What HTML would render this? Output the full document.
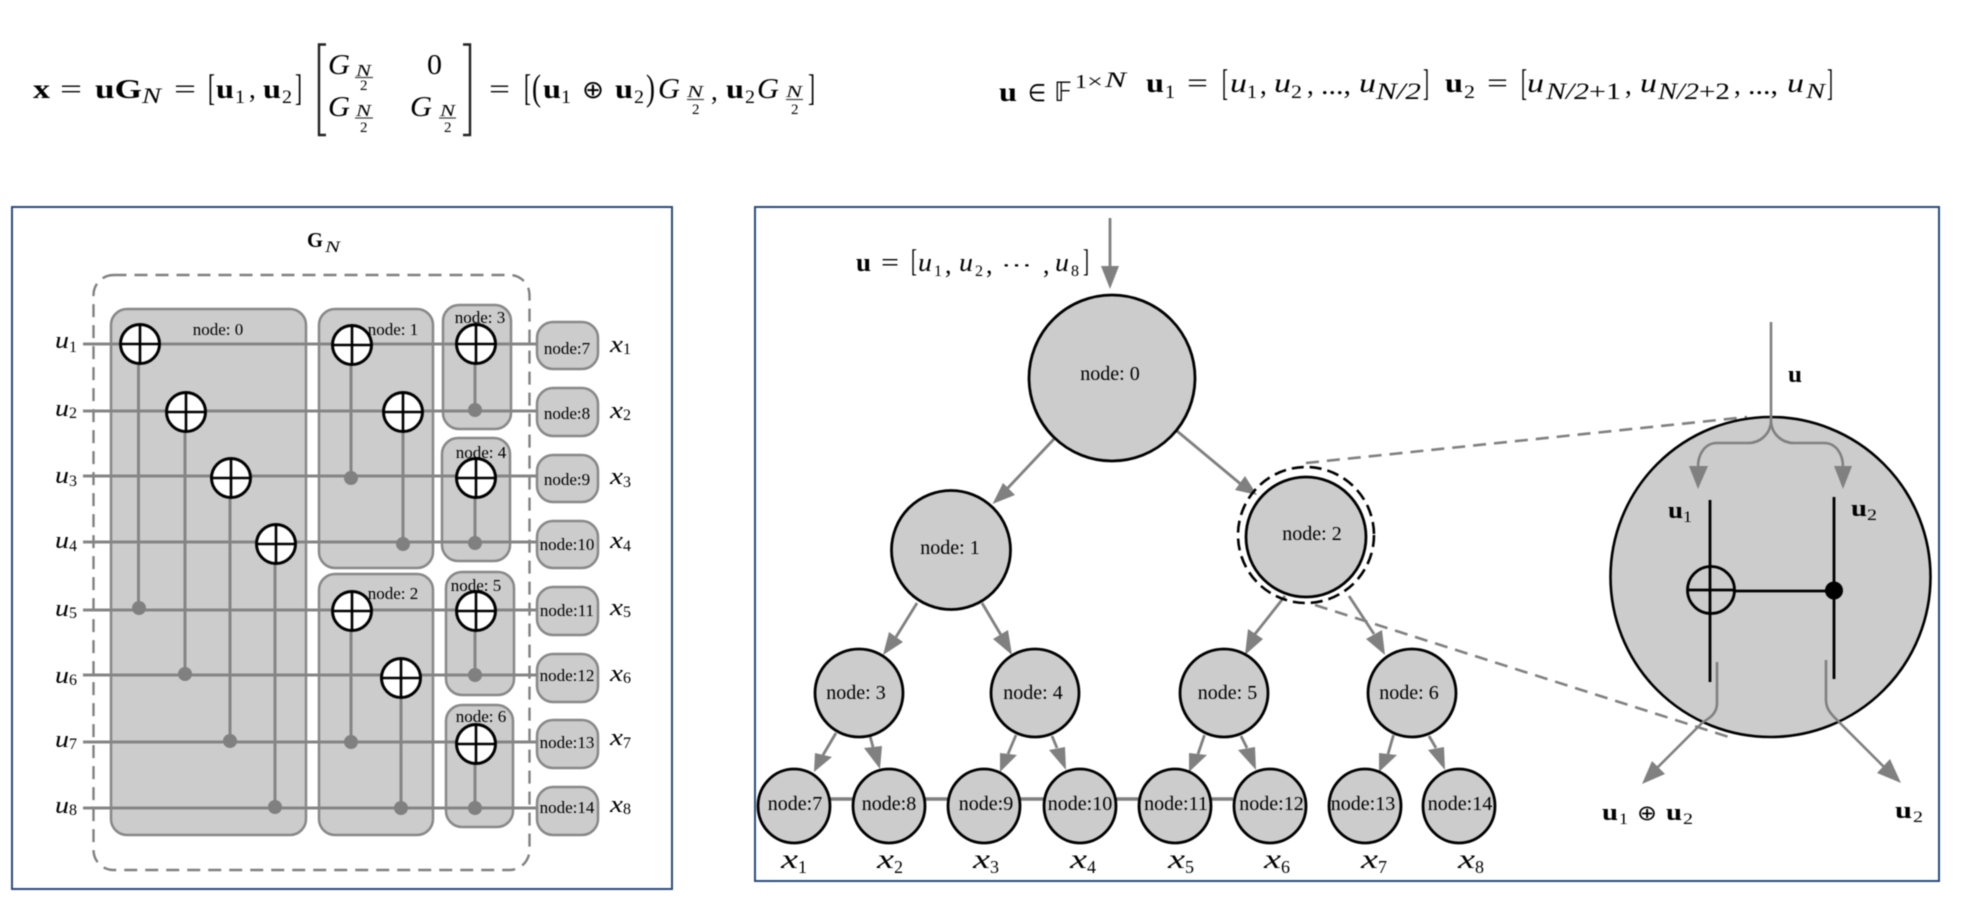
<!DOCTYPE html>
<html><head><meta charset="utf-8"><style>
html,body{margin:0;padding:0;background:#fff}
svg{display:block;filter:blur(0.45px)}
text{font-family:"Liberation Serif",serif;fill:#000}
.b{font-weight:bold}
.i{font-style:italic}
.t{font-size:17px;text-anchor:middle}
.T{font-size:20px;text-anchor:middle}
.w{stroke:#858585;stroke-width:3;fill:none}
.g{fill:#808080}
.s{font-family:"DejaVu Sans",sans-serif}
</style></head><body>
<svg width="1980" height="906" viewBox="0 0 1980 906" xmlns="http://www.w3.org/2000/svg">
<defs>
<g id="x"><circle r="19.5" fill="#fff" stroke="#000" stroke-width="3"/><path d="M-19.5 0H19.5M0 -19.5V19.5" stroke="#000" stroke-width="2.6" fill="none"/></g>
</defs>
<rect width="1980" height="906" fill="#fff"/>

<!-- equation 1 -->
<g font-size="27">
<text class="b" x="33" y="98" textLength="17" lengthAdjust="spacingAndGlyphs">x</text>
<text x="60" y="98" textLength="22" lengthAdjust="spacingAndGlyphs">=</text>
<text class="b" x="95" y="98" textLength="47" lengthAdjust="spacingAndGlyphs">uG</text>
<text class="i" x="142" y="103" font-size="22" textLength="19" lengthAdjust="spacingAndGlyphs">N</text>
<text x="174" y="98" textLength="22" lengthAdjust="spacingAndGlyphs">=</text>
<text x="208" y="100" font-size="37" textLength="7" lengthAdjust="spacingAndGlyphs">[</text>
<text class="b" x="216" y="98" textLength="18" lengthAdjust="spacingAndGlyphs">u</text>
<text x="235" y="103" font-size="19" textLength="10" lengthAdjust="spacingAndGlyphs">1</text>
<text x="249" y="98">,</text>
<text class="b" x="263" y="98" textLength="18" lengthAdjust="spacingAndGlyphs">u</text>
<text x="282" y="103" font-size="19" textLength="10" lengthAdjust="spacingAndGlyphs">2</text>
<text x="295" y="100" font-size="37" textLength="7" lengthAdjust="spacingAndGlyphs">]</text>
<text class="i" x="328" y="74" font-size="29" textLength="22" lengthAdjust="spacingAndGlyphs">G</text>
<text class="i" x="356" y="76" font-size="17" textLength="15" lengthAdjust="spacingAndGlyphs">N</text>
<text x="360" y="90" font-size="15">2</text>
<text x="427" y="74" font-size="29" textLength="15" lengthAdjust="spacingAndGlyphs">0</text>
<text class="i" x="328" y="116" font-size="29" textLength="22" lengthAdjust="spacingAndGlyphs">G</text>
<text class="i" x="356" y="116" font-size="17" textLength="15" lengthAdjust="spacingAndGlyphs">N</text>
<text x="360" y="132" font-size="15">2</text>
<text class="i" x="410" y="116" font-size="29" textLength="22" lengthAdjust="spacingAndGlyphs">G</text>
<text class="i" x="440" y="116" font-size="17" textLength="15" lengthAdjust="spacingAndGlyphs">N</text>
<text x="444" y="132" font-size="15">2</text>
<text x="489" y="98" textLength="21" lengthAdjust="spacingAndGlyphs">=</text>
<text x="524" y="100" font-size="37" textLength="7" lengthAdjust="spacingAndGlyphs">[</text>
<text x="532" y="100" font-size="37" textLength="9" lengthAdjust="spacingAndGlyphs">(</text>
<text class="b" x="543" y="98" textLength="18" lengthAdjust="spacingAndGlyphs">u</text>
<text x="561" y="103" font-size="19" textLength="10" lengthAdjust="spacingAndGlyphs">1</text>
<text class="s" x="582" y="98" font-size="25" textLength="22" lengthAdjust="spacingAndGlyphs">⊕</text>
<text class="b" x="615" y="98" textLength="18" lengthAdjust="spacingAndGlyphs">u</text>
<text x="634" y="103" font-size="19" textLength="10" lengthAdjust="spacingAndGlyphs">2</text>
<text x="646" y="100" font-size="37" textLength="9" lengthAdjust="spacingAndGlyphs">)</text>
<text class="i" x="658" y="98" font-size="29" textLength="22" lengthAdjust="spacingAndGlyphs">G</text>
<text class="i" x="687" y="97" font-size="17" textLength="16" lengthAdjust="spacingAndGlyphs">N</text>
<text x="692" y="114" font-size="15">2</text>
<text x="711" y="100">,</text>
<text class="b" x="726" y="98" textLength="18" lengthAdjust="spacingAndGlyphs">u</text>
<text x="745" y="103" font-size="19" textLength="10" lengthAdjust="spacingAndGlyphs">2</text>
<text class="i" x="757" y="98" font-size="29" textLength="22" lengthAdjust="spacingAndGlyphs">G</text>
<text class="i" x="786" y="97" font-size="17" textLength="16" lengthAdjust="spacingAndGlyphs">N</text>
<text x="791" y="114" font-size="15">2</text>
<text x="808" y="100" font-size="37" textLength="7" lengthAdjust="spacingAndGlyphs">]</text>
</g>
<path d="M326 44.500H319V135H326M463 44.500H470V135H463" fill="none" stroke="#222" stroke-width="2.400"/>
<path d="M355 77.500H373M439 118H456M355 118H373M687 99.500H704M786 99.500H803" stroke="#444" stroke-width="1.300"/>

<!-- equation 2 -->
<g font-size="27">
<text class="b" x="999" y="101" textLength="18" lengthAdjust="spacingAndGlyphs">u</text>
<text class="s" x="1028" y="101" font-size="24" textLength="18" lengthAdjust="spacingAndGlyphs">∈</text>
<text class="s" x="1054" y="101" font-size="27" textLength="18" lengthAdjust="spacingAndGlyphs">𝔽</text>
<text x="1075" y="88" font-size="20" textLength="12" lengthAdjust="spacingAndGlyphs">1</text>
<text x="1087" y="88" font-size="20" textLength="16" lengthAdjust="spacingAndGlyphs">×</text>
<text class="i" x="1105" y="87" font-size="22" textLength="21" lengthAdjust="spacingAndGlyphs">N</text>

<text class="b" x="1146" y="92" textLength="18" lengthAdjust="spacingAndGlyphs">u</text>
<text x="1165" y="98" font-size="19" textLength="10" lengthAdjust="spacingAndGlyphs">1</text>
<text x="1187" y="92" textLength="21" lengthAdjust="spacingAndGlyphs">=</text>
<text x="1222" y="95" font-size="37" textLength="6" lengthAdjust="spacingAndGlyphs">[</text>
<text class="i" x="1230" y="92" textLength="17" lengthAdjust="spacingAndGlyphs">u</text>
<text x="1247" y="98" font-size="19" textLength="10" lengthAdjust="spacingAndGlyphs">1</text>
<text x="1260" y="94">,</text>
<text class="i" x="1274" y="92" textLength="17" lengthAdjust="spacingAndGlyphs">u</text>
<text x="1291" y="98" font-size="19" textLength="11" lengthAdjust="spacingAndGlyphs">2</text>
<text x="1307" y="94">,</text>
<text x="1321" y="94" textLength="30" lengthAdjust="spacingAndGlyphs">...,</text>
<text class="i" x="1359" y="92" textLength="17" lengthAdjust="spacingAndGlyphs">u</text>
<text class="i" x="1376" y="99" font-size="23" textLength="45" lengthAdjust="spacingAndGlyphs">N/2</text>
<text x="1423" y="95" font-size="37" textLength="6" lengthAdjust="spacingAndGlyphs">]</text>

<text class="b" x="1445" y="92" textLength="18" lengthAdjust="spacingAndGlyphs">u</text>
<text x="1464" y="98" font-size="19" textLength="11" lengthAdjust="spacingAndGlyphs">2</text>
<text x="1487" y="92" textLength="21" lengthAdjust="spacingAndGlyphs">=</text>
<text x="1521" y="95" font-size="37" textLength="6" lengthAdjust="spacingAndGlyphs">[</text>
<text class="i" x="1527" y="92" textLength="17" lengthAdjust="spacingAndGlyphs">u</text>
<text class="i" x="1546" y="99" font-size="23" textLength="43" lengthAdjust="spacingAndGlyphs">N/2</text>
<text x="1589" y="99" font-size="23" textLength="32" lengthAdjust="spacingAndGlyphs">+1</text>
<text x="1625" y="94">,</text>
<text class="i" x="1640" y="92" textLength="17" lengthAdjust="spacingAndGlyphs">u</text>
<text class="i" x="1658" y="99" font-size="23" textLength="41" lengthAdjust="spacingAndGlyphs">N/2</text>
<text x="1699" y="99" font-size="23" textLength="31" lengthAdjust="spacingAndGlyphs">+2</text>
<text x="1734" y="94">,</text>
<text x="1748" y="94" textLength="30" lengthAdjust="spacingAndGlyphs">...,</text>
<text class="i" x="1787" y="92" textLength="17" lengthAdjust="spacingAndGlyphs">u</text>
<text class="i" x="1806" y="98" font-size="21" textLength="19" lengthAdjust="spacingAndGlyphs">N</text>
<text x="1827" y="95" font-size="37" textLength="6" lengthAdjust="spacingAndGlyphs">]</text>
</g>

<!-- left panel -->
<rect x="12" y="207" width="660" height="682" fill="#fff" stroke="#2a4a80" stroke-width="2"/>
<text class="b" x="307" y="247" font-size="21" textLength="16" lengthAdjust="spacingAndGlyphs">G</text>
<text class="i" x="325" y="252" font-size="16" textLength="15" lengthAdjust="spacingAndGlyphs">N</text>
<rect x="93.500" y="275" width="436" height="595" rx="20" fill="none" stroke="#808080" stroke-width="2.400" stroke-dasharray="13 8"/>
<g fill="#ccc" stroke="#888" stroke-width="2.500">
<rect x="111" y="309" width="195" height="526" rx="16"/>
<rect x="319" y="309" width="114" height="259" rx="16"/>
<rect x="319" y="574" width="114" height="261" rx="16"/>
<rect x="443" y="305" width="68" height="124" rx="16"/>
<rect x="442" y="438" width="68" height="123" rx="16"/>
<rect x="446" y="572" width="68" height="123" rx="16"/>
<rect x="446" y="705" width="67" height="122" rx="16"/>
</g>
<path class="w" d="M83 344H538M83 411H538M83 476H538M83 542H538M83 610H538M83 675H538M83 742H538M83 808H538"/>
<path class="w" d="M138.500 344V608M185 412V674M230 478V741M275 544V807M351 345V478M403 412V544M351 611V742M401 678V808M475 344V410M475 478V543M475 611V675M475 744V808"/>
<g fill="#808080">
<circle cx="139" cy="608" r="7"/><circle cx="185" cy="674" r="7"/><circle cx="230" cy="741" r="7"/><circle cx="275" cy="807" r="7"/>
<circle cx="351" cy="478" r="7"/><circle cx="403" cy="544" r="7"/><circle cx="351" cy="742" r="7"/><circle cx="401" cy="808" r="7"/>
<circle cx="475" cy="410" r="7"/><circle cx="475" cy="543" r="7"/><circle cx="475" cy="675" r="7"/><circle cx="475" cy="808" r="7"/>
</g>
<use href="#x" x="140" y="344"/><use href="#x" x="186" y="412"/><use href="#x" x="231" y="478"/><use href="#x" x="276" y="544"/>
<use href="#x" x="352" y="345"/><use href="#x" x="403" y="412"/><use href="#x" x="352" y="611"/><use href="#x" x="401" y="678"/>
<use href="#x" x="476" y="344"/><use href="#x" x="476" y="478"/><use href="#x" x="476" y="611"/><use href="#x" x="476" y="744"/>
<g fill="#ccc" stroke="#888" stroke-width="2.500">
<rect x="537" y="322" width="61" height="47" rx="16"/><rect x="537" y="388" width="61" height="48" rx="16"/>
<rect x="537" y="455" width="61" height="47" rx="16"/><rect x="537" y="521" width="61" height="47" rx="16"/>
<rect x="537" y="587" width="61" height="48" rx="16"/><rect x="537" y="654" width="61" height="48" rx="16"/>
<rect x="537" y="720" width="61" height="48" rx="16"/><rect x="537" y="787" width="61" height="48" rx="16"/>
</g>
<text class="t" x="218" y="335">node: 0</text>
<text class="t" x="393" y="335">node: 1</text>
<text class="t" x="393" y="599">node: 2</text>
<text class="t" x="480" y="323">node: 3</text>
<text class="t" x="481" y="458">node: 4</text>
<text class="t" x="476" y="591">node: 5</text>
<text class="t" x="481" y="722">node: 6</text>
<text class="t" x="567" y="354">node:7</text>
<text class="t" x="567" y="419">node:8</text>
<text class="t" x="567" y="485">node:9</text>
<text class="t" x="567" y="550">node:10</text>
<text class="t" x="567" y="616">node:11</text>
<text class="t" x="567" y="681">node:12</text>
<text class="t" x="567" y="748">node:13</text>
<text class="t" x="567" y="813">node:14</text>

<g font-size="24">
<g class="i">
<text x="55" y="348" textLength="14" lengthAdjust="spacingAndGlyphs">u</text>
<text x="55" y="416" textLength="14" lengthAdjust="spacingAndGlyphs">u</text>
<text x="55" y="483" textLength="14" lengthAdjust="spacingAndGlyphs">u</text>
<text x="55" y="548" textLength="14" lengthAdjust="spacingAndGlyphs">u</text>
<text x="55" y="616" textLength="14" lengthAdjust="spacingAndGlyphs">u</text>
<text x="55" y="683" textLength="14" lengthAdjust="spacingAndGlyphs">u</text>
<text x="55" y="747" textLength="14" lengthAdjust="spacingAndGlyphs">u</text>
<text x="55" y="813" textLength="14" lengthAdjust="spacingAndGlyphs">u</text>
<text x="610" y="352" textLength="13" lengthAdjust="spacingAndGlyphs">x</text>
<text x="610" y="418" textLength="13" lengthAdjust="spacingAndGlyphs">x</text>
<text x="610" y="484" textLength="13" lengthAdjust="spacingAndGlyphs">x</text>
<text x="610" y="548" textLength="13" lengthAdjust="spacingAndGlyphs">x</text>
<text x="610" y="615" textLength="13" lengthAdjust="spacingAndGlyphs">x</text>
<text x="610" y="681" textLength="13" lengthAdjust="spacingAndGlyphs">x</text>
<text x="610" y="745" textLength="13" lengthAdjust="spacingAndGlyphs">x</text>
<text x="610" y="812" textLength="13" lengthAdjust="spacingAndGlyphs">x</text>
</g>
<g font-size="16">
<text x="69" y="352">1</text><text x="69" y="418">2</text><text x="69" y="486">3</text><text x="69" y="551">4</text>
<text x="69" y="618">5</text><text x="69" y="685">6</text><text x="69" y="749">7</text><text x="69" y="815">8</text>
<text x="623" y="354">1</text><text x="623" y="420">2</text><text x="623" y="487">3</text><text x="623" y="551">4</text>
<text x="623" y="617">5</text><text x="623" y="683">6</text><text x="623" y="748">7</text><text x="623" y="814">8</text>
</g>
</g>

<!-- right panel -->
<rect x="755" y="207" width="1184" height="674" fill="#fff" stroke="#2a4a80" stroke-width="2"/>

<g font-size="26">
<text class="b" x="856" y="271" textLength="15" lengthAdjust="spacingAndGlyphs">u</text>
<text x="881" y="271" textLength="18" lengthAdjust="spacingAndGlyphs">=</text>
<text x="911" y="271" font-size="32" textLength="6" lengthAdjust="spacingAndGlyphs">[</text>
<text class="i" x="918" y="271" textLength="14" lengthAdjust="spacingAndGlyphs">u</text>
<text x="934" y="276" font-size="16">1</text>
<text x="945" y="273">,</text>
<text class="i" x="959" y="271" textLength="14" lengthAdjust="spacingAndGlyphs">u</text>
<text x="975" y="276" font-size="16">2</text>
<text x="986" y="273">,</text>
<text class="s" x="1001" y="271" font-size="18" textLength="31" lengthAdjust="spacingAndGlyphs">⋯</text>
<text x="1043" y="273">,</text>
<text class="i" x="1055" y="271" textLength="14" lengthAdjust="spacingAndGlyphs">u</text>
<text x="1071" y="276" font-size="16">8</text>
<text x="1083" y="271" font-size="32" textLength="6" lengthAdjust="spacingAndGlyphs">]</text>
</g>

<!-- leaf link -->
<path d="M830 799H1233" stroke="#808080" stroke-width="3.500" fill="none"/>

<!-- dashed lead lines -->
<path d="M1306 463L1747 417" fill="none" stroke="#808080" stroke-width="2.600" stroke-dasharray="13 8"/>

<!-- big circle -->
<circle cx="1770.500" cy="577" r="160" fill="#ccc" stroke="#000" stroke-width="2.600"/>
<path d="M1315 605L1732 738" fill="none" stroke="#808080" stroke-width="2.600" stroke-dasharray="13 8"/>

<!-- tree edges -->
<g stroke="#808080" stroke-width="2.800" fill="none">
<path d="M1110 218V268"/>
<path d="M1054 439L1005 491"/>
<path d="M1177 431L1243 486"/>
<path d="M917 603L896 637"/>
<path d="M982 603L1001 635"/>
<path d="M1285 596L1255 634"/>
<path d="M1349 596L1374 634"/>
<path d="M836 733L823 755"/>
<path d="M870 736L873 747"/>
<path d="M1016 735L1008 754"/>
<path d="M1052 736L1057 748"/>
<path d="M1204.500 735L1198 754"/>
<path d="M1241 736L1247 748"/>
<path d="M1393.500 735L1388 754"/>
<path d="M1429 736L1436 748"/>
</g>
<g class="g">
<polygon points="1101,266 1119,266 1110,289"/>
<polygon points="1003,483 1015,495 992.500,504"/>
<polygon points="1245,476 1235,490 1257,495"/>
<polygon points="889,632 903,642 883,655"/>
<polygon points="993,639 1008,630 1012,655"/>
<polygon points="1248,629 1263,639 1245,655"/>
<polygon points="1366,639 1382,630 1385,655"/>
<polygon points="815,753 832,757 814,772"/>
<polygon points="864,748 882,746 880,769"/>
<polygon points="1000,753 1017,755 1000,772"/>
<polygon points="1049,750 1065,747 1066,770"/>
<polygon points="1189,753 1207,755 1189,772"/>
<polygon points="1238,750 1255,747 1256,770"/>
<polygon points="1379,753 1397,755 1379,772"/>
<polygon points="1428,750 1444,747 1445,770"/>
</g>

<!-- tree nodes -->
<g fill="#ccc" stroke="#000" stroke-width="2.800">
<circle cx="1112" cy="378" r="83"/>
<circle cx="951" cy="550" r="59.500"/>
<circle cx="1306" cy="537" r="60"/>
<circle cx="859" cy="693" r="44"/><circle cx="1035" cy="693" r="44"/><circle cx="1224" cy="693" r="44"/><circle cx="1412" cy="693" r="44"/>
<ellipse cx="794" cy="806" rx="36" ry="37"/><ellipse cx="889" cy="806" rx="36" ry="37"/><ellipse cx="984" cy="806" rx="36" ry="37"/><ellipse cx="1080" cy="806" rx="36" ry="37"/>
<ellipse cx="1175" cy="806" rx="36" ry="37"/><ellipse cx="1270" cy="806" rx="36" ry="37"/><ellipse cx="1365" cy="806" rx="36" ry="37"/><ellipse cx="1459" cy="806" rx="36" ry="37"/>
</g>
<circle cx="1306" cy="535" r="68" fill="none" stroke="#000" stroke-width="2.600" stroke-dasharray="12 6"/>

<text class="T" x="1110" y="380">node: 0</text>
<text class="T" x="950" y="554">node: 1</text>
<text class="T" x="1312" y="540">node: 2</text>
<text class="T" x="856" y="699">node: 3</text>
<text class="T" x="1033" y="699">node: 4</text>
<text class="T" x="1227.500" y="699">node: 5</text>
<text class="T" x="1409" y="699">node: 6</text>
<text class="T" x="795" y="810">node:7</text>
<text class="T" x="889" y="810">node:8</text>
<text class="T" x="986" y="810">node:9</text>
<text class="T" x="1080" y="810">node:10</text>
<text class="T" x="1176" y="810">node:11</text>
<text class="T" x="1271.500" y="810">node:12</text>
<text class="T" x="1363" y="810">node:13</text>
<text class="T" x="1460" y="810">node:14</text>

<g font-size="27">
<g class="i">
<text x="781" y="868" textLength="17" lengthAdjust="spacingAndGlyphs">x</text>
<text x="877" y="868" textLength="17" lengthAdjust="spacingAndGlyphs">x</text>
<text x="973" y="868" textLength="17" lengthAdjust="spacingAndGlyphs">x</text>
<text x="1070" y="868" textLength="17" lengthAdjust="spacingAndGlyphs">x</text>
<text x="1168" y="868" textLength="17" lengthAdjust="spacingAndGlyphs">x</text>
<text x="1264" y="868" textLength="17" lengthAdjust="spacingAndGlyphs">x</text>
<text x="1361" y="868" textLength="17" lengthAdjust="spacingAndGlyphs">x</text>
<text x="1458" y="868" textLength="17" lengthAdjust="spacingAndGlyphs">x</text>
</g>
<g font-size="18">
<text x="798" y="873">1</text><text x="894" y="873">2</text><text x="990" y="873">3</text><text x="1087" y="873">4</text>
<text x="1185" y="873">5</text><text x="1281" y="873">6</text><text x="1378" y="873">7</text><text x="1475" y="873">8</text>
</g>
</g>

<!-- detail circle contents -->
<g stroke="#808080" stroke-width="2.600" fill="none">
<path d="M1771 322V420C1771 434 1760 443 1748 443H1717C1705 443 1698 454 1698 467"/>
<path d="M1771 420C1771 434 1782 443 1794 443H1824C1836 443 1843 454 1843 467"/>
<path d="M1717 662V703C1717 712 1712 717 1703 722L1650 775"/>
<path d="M1826 660V700C1826 710 1832 715 1840 723L1885 768"/>
</g>
<g class="g">
<polygon points="1689,466 1708,466 1698,489"/>
<polygon points="1834,466 1852,466 1843,489"/>
<polygon points="1652,761 1665,774 1642,784"/>
<polygon points="1890,759 1877,773 1901,783"/>
</g>
<g stroke="#000" stroke-width="2.800" fill="none">
<path d="M1710 500V682M1834 497V679"/>
<circle cx="1711" cy="590" r="23.500"/>
<path d="M1687 590H1735M1735 591H1834"/>
</g>
<circle cx="1834" cy="590.500" r="9" fill="#000"/>

<g font-size="24">
<text class="b" x="1788" y="382" textLength="14" lengthAdjust="spacingAndGlyphs">u</text>
<text class="b" x="1668" y="518" textLength="15" lengthAdjust="spacingAndGlyphs">u</text>
<text x="1683" y="522" font-size="16" textLength="9" lengthAdjust="spacingAndGlyphs">1</text>
<text class="b" x="1851" y="516" textLength="16" lengthAdjust="spacingAndGlyphs">u</text>
<text x="1867" y="520" font-size="16" textLength="10" lengthAdjust="spacingAndGlyphs">2</text>
<text class="b" x="1602" y="820" textLength="16" lengthAdjust="spacingAndGlyphs">u</text>
<text x="1619" y="824" font-size="16" textLength="9" lengthAdjust="spacingAndGlyphs">1</text>
<text class="s" x="1637" y="820" font-size="21" fill="#444" textLength="20" lengthAdjust="spacingAndGlyphs">⊕</text>
<text class="b" x="1666" y="820" textLength="16" lengthAdjust="spacingAndGlyphs">u</text>
<text x="1683" y="824" font-size="16" textLength="10" lengthAdjust="spacingAndGlyphs">2</text>
<text class="b" x="1895" y="818" textLength="17" lengthAdjust="spacingAndGlyphs">u</text>
<text x="1913" y="822" font-size="16" textLength="10" lengthAdjust="spacingAndGlyphs">2</text>
</g>
</svg>
</body></html>
